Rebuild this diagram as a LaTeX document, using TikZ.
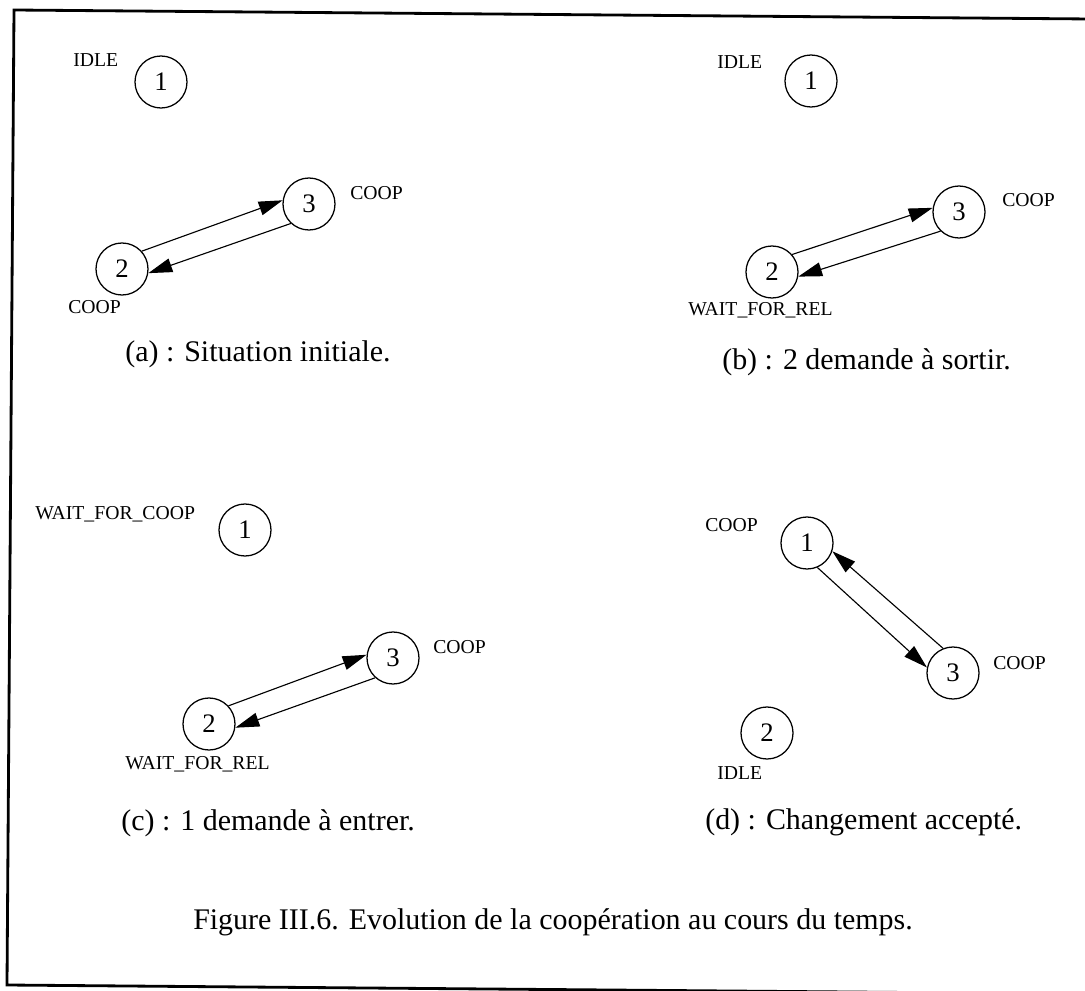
\documentclass[tikz,border=0pt]{standalone}
\usepackage{fontspec}
\setmainfont{Liberation Serif}
\usetikzlibrary{arrows.meta}
\begin{document}
\begin{tikzpicture}[x=0.025cm,y=-0.025cm,
		state/.style={draw,circle,line width=0.9pt,minimum size=1.3cm,inner sep=0pt,font=\fontsize{19}{19}\selectfont},
		tag/.style={anchor=west,inner sep=0pt,font=\fontsize{14}{14}\selectfont},
		legend/.style={anchor=west,inner sep=0pt,font=\fontsize{21.3}{22}\selectfont},
		arr/.style={-{Triangle[length=17pt,width=10pt]},line width=0.8pt}]
		\useasboundingbox (0,0) rectangle (1085,991);
		\clip (0,0) rectangle (1085,991);
		\draw[line width=2pt] (1090,19) -- (14,10) -- (7,985) -- (1090,994);
		\node[state] (a1) at (161,82) {1};
		\node[state] (a2) at (122,269) {2};
		\node[state] (a3) at (309,204) {3};
		\node[tag] (a1t) at (73,60) {IDLE};
		\node[tag] (a2t) at (68,307) {COOP};
		\node[tag] (a3t) at (350,193) {COOP};
		\draw[arr] (a2.42) -- (a3.172);
		\draw[arr] (a3.227) -- (a2.-9);
		\node[legend] (acap) at (125,354) {(a) : Situation initiale.};
		\node[state] (b1) at (811,81) {1};
		\node[state] (b2) at (772,272) {2};
		\node[state] (b3) at (959,212) {3};
		\node[tag] (b1t) at (717,62) {IDLE};
		\node[tag] (b2t) at (688,310) {WAIT\_FOR\_REL};
		\node[tag] (b3t) at (1002,200) {COOP};
		\draw[arr] (b2.41) -- (b3.171);
		\draw[arr] (b3.226) -- (b2.-10);
		\node[legend] (bcap) at (722,362) {(b) : 2 demande à sortir.};
		\node[state] (c1) at (245,530) {1};
		\node[state] (c2) at (209,724) {2};
		\node[state] (c3) at (393,658) {3};
		\node[tag] (c1t) at (35,514) {WAIT\_FOR\_COOP};
		\node[tag] (c2t) at (125,764) {WAIT\_FOR\_REL};
		\node[tag] (c3t) at (433,647) {COOP};
		\draw[arr] (c2.43) -- (c3.173);
		\draw[arr] (c3.228) -- (c2.-8);
		\node[legend] (ccap) at (121,823) {(c) : 1 demande à entrer.};
		\node[state] (d1) at (807,543) {1};
		\node[state] (d2) at (767,733) {2};
		\node[state] (d3) at (953,673) {3};
		\node[tag] (d1t) at (705,525) {COOP};
		\node[tag] (d2t) at (717,773) {IDLE};
		\node[tag] (d3t) at (993,663) {COOP};
		\draw[arr] (d1.-67) -- (d3.168);
		\draw[arr] (d3.112) -- (d1.-18);
		\node[legend] (dcap) at (705,822) {(d) : Changement accepté.};
		\node[legend,anchor=center] (fig) at (553,922) {Figure III.6. Evolution de la coopération au cours du temps.};
	\end{tikzpicture}
\end{document}
